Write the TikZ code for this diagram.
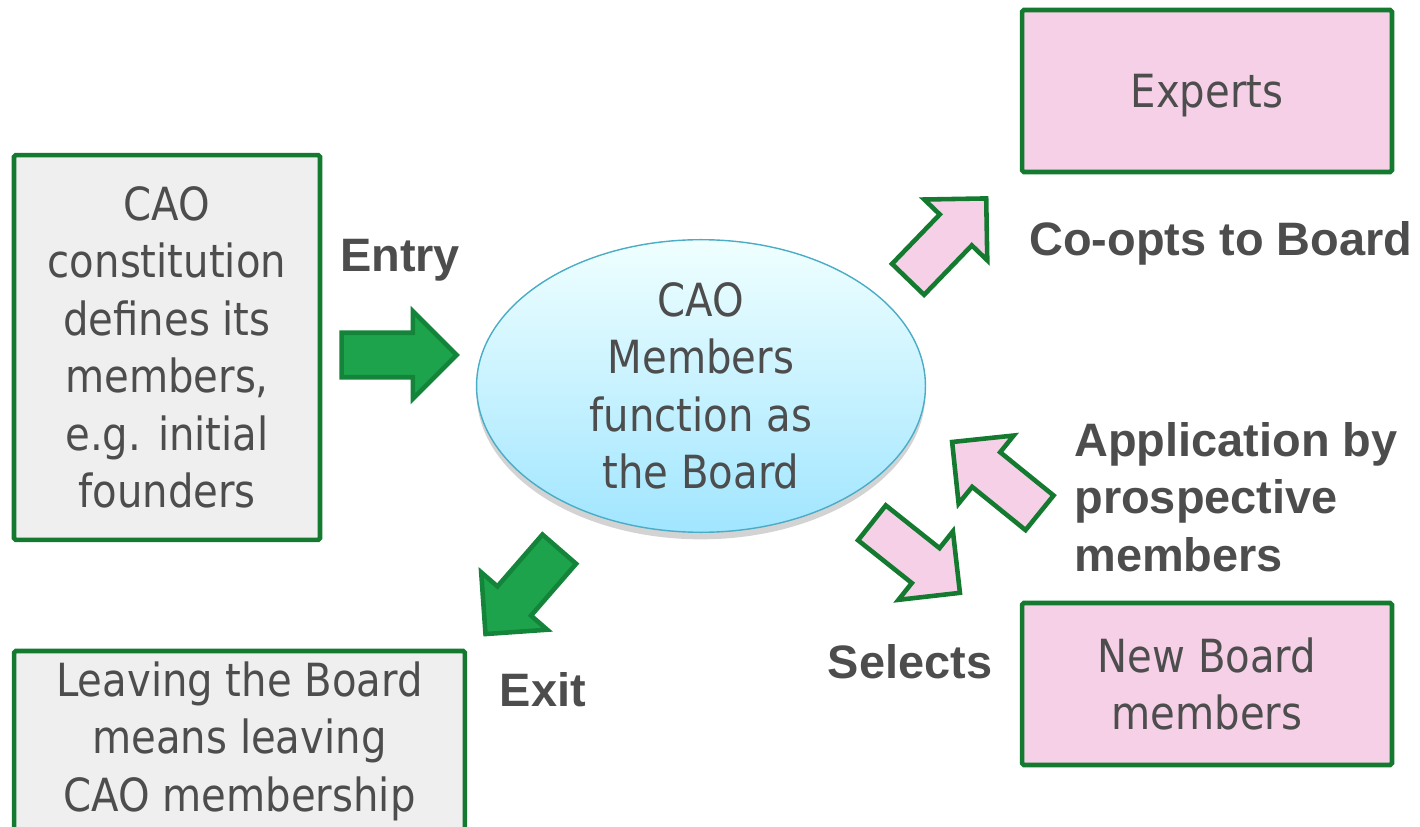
\documentclass[tikz,border=0pt]{standalone}
\usepackage{fontspec}
\setmainfont{DejaVu Sans}[FakeStretch=0.88]
\newfontfamily\labelfont{Liberation Sans}
\usetikzlibrary{shapes.geometric,shapes.arrows,shadows}
\definecolor{boxgreen}{HTML}{137A30}
\definecolor{dgreen}{HTML}{14843A}
\definecolor{lgreen}{HTML}{1DA34B}
\definecolor{lpink}{HTML}{F5D0E6}
\definecolor{lgray}{HTML}{EFEFEF}
\definecolor{tgray}{HTML}{4D4D4D}
\definecolor{ellline}{HTML}{4BACC6}
\tikzset
{
    % Style for the text boxes
    info box/.style=
    {
        draw=boxgreen,
        line width=2.6pt,
        rounded corners=1pt,
        text=tgray,
        align=center,
        inner sep=0pt,
        font=\fontsize{26}{32.7}\selectfont
    },
    % Style for the boxes of the members
    member box/.style=
    {
        info box,
        fill=lpink,
        minimum width=7.4cm,
        minimum height=3.24cm
    },
    % Style for the block arrows
    block arrow/.style=
    {
        shape=single arrow,
        inner xsep=0pt,
        inner ysep=0.40cm,
        outer sep=0pt,
        line width=2.6pt,
        minimum height=2.25cm,
        single arrow head extend=0.43cm,
        single arrow tip angle=90,
        single arrow head indent=0pt
    },
    % Arrow in and out of the board
    green arrow/.style=
    {
        block arrow,
        fill=lgreen,
        draw=dgreen
    },
    % Arrow to and from the outside
    pink arrow/.style=
    {
        block arrow,
        fill=lpink,
        draw=boxgreen
    },
    % Style for the bold labels
    arrow label/.style=
    {
        text=tgray,
        inner sep=0pt,
        font=\labelfont\bfseries\fontsize{26.7}{32.7}\selectfont
    }
}

\begin{document}
\begin{tikzpicture}[x=0.02cm,y=-0.02cm]
    % Bounding box in pixels of the reference
    \path [use as bounding box] (0,0) rectangle (1420,827);

    % Boxes on the left
    \node (constitution) [info box,fill=lgray,minimum width=6.12cm,minimum height=7.7cm]
        at (167,347.5) {CAO\\constitution\\defines its\\members,\\e.g. initial\\founders};
    \node (leaving) [info box,fill=lgray,minimum width=9.02cm,minimum height=3.6cm]
        at (239.5,741) {Leaving the Board\\means leaving\\CAO membership};

    % The Board
    \node (board) [ellipse,draw=ellline,line width=0.8pt,top color=cyan!6!white,bottom color=cyan!30!white!90!blue,
        minimum width=8.98cm,minimum height=5.74cm,inner sep=0pt,text=tgray,align=center,
        font=\fontsize{26}{32.7}\selectfont,
        drop shadow={shadow xshift=0pt,shadow yshift=-4pt,opacity=0.35}]
        at (701,386) {CAO\\Members\\function as\\the Board};

    % Boxes on the right
    \node (experts) [member box,text depth=0pt] at (1207,91) {Experts};
    \node (newmembers) [member box] at (1207,684) {New Board\\members};

    % Arrows (the centre of the shape sits a little behind its middle)
    \node (entry) [green arrow,minimum height=2.3cm] at (388,355) {};
    \node (exit) [green arrow,rotate=229] at (529.7,583.2) {};
    \node (coopts) [pink arrow,rotate=46] at (939.4,246.9) {};
    \node (application) [pink arrow,rotate=141] at (1004.5,484.4) {};
    \node (selects) [pink arrow,rotate=-38.5] at (907.2,550.9) {};

    % Labels
    \node (entry label) [arrow label] at (400,260) {Entry};
    \node (exit label) [arrow label] at (543,690) {Exit};
    \node (coopts label) [arrow label,anchor=west] at (1029,243) {Co-opts to Board};
    \node (application label) [arrow label,anchor=west,align=left] at (1074,497)
        {Application by\\prospective\\members};
    \node (selects label) [arrow label] at (910,662) {Selects};
\end{tikzpicture}
\end{document}
